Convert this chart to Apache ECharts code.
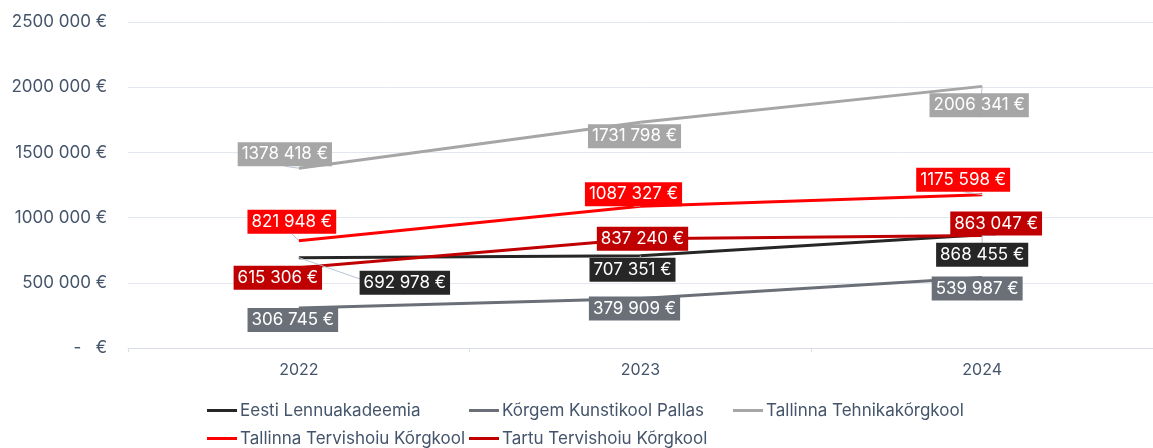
<!DOCTYPE html>
<html>
<head>
<meta charset="utf-8">
<script src="https://cdn.jsdelivr.net/npm/echarts@6/dist/echarts.min.js"></script>
<style>
  html, body { margin: 0; padding: 0; background: #fff; }
  #main { width: 1153px; height: 448px; }
</style>
</head>
<body>
<div id="main"></div>
<script>
// data
var years = ['2022', '2023', '2024'];
var eestiLennu = [692978, 707351, 868455];
var pallas = [306745, 379909, 539987];
var tehnika = [1378418, 1731798, 2006341];
var tallinnaTervis = [821948, 1087327, 1175598];
var tartuTervis = [615306, 837240, 863047];
var yTicks = [0, 500000, 1000000, 1500000, 2000000, 2500000];

var names = ['Eesti Lennuakadeemia', 'Kõrgem Kunstikool Pallas', 'Tallinna Tehnikakõrgkool',
  'Tallinna Tervishoiu Kõrgkool', 'Tartu Tervishoiu Kõrgkool'];
var colors = ['#262626', '#6b7078', '#a6a6a6', '#ff0000', '#c00000'];

// where each data label sits relative to its point (px)
var labelOffsets = [
  [[106, 25], [-8, 14], [0, 20]],
  [[-6, 12], [-6, 10], [-5, 11]],
  [[-14, -14], [-6, 14], [-3, 19]],
  [[-7, -19], [-7, -12], [-19, -15]],
  [[-21, 10], [2, 0], [14, -12]]
];

var FONT = 'Inter';
var AXIS_COLOR = '#44546a';

function euro(v) {
  if (v === 0) return '-   €';
  var th = Math.floor(v / 1000);
  var rest = String(v % 1000);
  while (rest.length < 3) rest = '0' + rest;
  return th + ' ' + rest + ' €';
}

var myChart = echarts.init(document.getElementById('main'));

var seriesData = [eestiLennu, pallas, tehnika, tallinnaTervis, tartuTervis];
var series = seriesData.map(function (vals, si) {
  return {
    name: names[si],
    type: 'line',
    data: vals.map(function (v, i) {
      return { value: v, label: { offset: labelOffsets[si][i] } };
    }),
    symbol: 'circle',
    symbolSize: 0,
    showSymbol: true,
    lineStyle: { color: colors[si], width: 3 },
    itemStyle: { color: colors[si] },
    label: {
      show: true,
      position: 'inside',
      formatter: function (p) { return euro(p.value); },
      backgroundColor: colors[si],
      color: '#fff',
      fontFamily: FONT,
      fontSize: 17,
      padding: [4, 4, 3, 4]
    },
    labelLine: {
      show: true,
      lineStyle: { color: '#b8c4d4', width: 1 }
    },
    emphasis: { disabled: true },
    animation: false
  };
});

var legendLefts = [207, 469, 733, 207, 469];
var legendTops = [402, 402, 402, 430, 430];
var legends = names.map(function (n, i) {
  return {
    data: [n],
    left: legendLefts[i],
    top: legendTops[i],
    icon: 'rect',
    itemWidth: 30,
    itemHeight: 3,
    itemGap: 0,
    padding: 0,
    textStyle: { color: AXIS_COLOR, fontFamily: FONT, fontSize: 17, padding: [0, 0, 0, -2] }
  };
});

var option = {
  animation: false,
  grid: { left: 128, right: -10, top: 22, bottom: 100 },
  legend: legends,
  xAxis: {
    type: 'category',
    data: years,
    boundaryGap: true,
    axisLine: { lineStyle: { color: '#d9dee6', width: 1 } },
    axisTick: { show: true, length: 4, lineStyle: { color: '#d9dee6' } },
    axisLabel: { color: AXIS_COLOR, fontFamily: FONT, fontSize: 16, margin: 14 }
  },
  yAxis: {
    type: 'value',
    min: yTicks[0],
    max: yTicks[yTicks.length - 1],
    interval: 500000,
    axisLine: { show: false },
    axisTick: { show: false },
    splitLine: { lineStyle: { color: '#e3e8ef', width: 1 } },
    axisLabel: { color: AXIS_COLOR, fontFamily: FONT, fontSize: 17, margin: 21,
      formatter: function (v) { return euro(v); } }
  },
  series: series
};

myChart.setOption(option);
</script>
</body>
</html>
